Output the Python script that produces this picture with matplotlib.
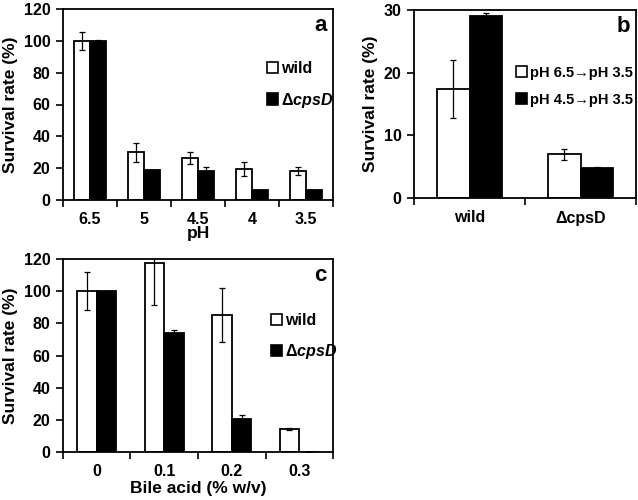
import numpy as np
import matplotlib
matplotlib.use("Agg")
import matplotlib.pyplot as plt
from matplotlib.patches import Patch

plt.rcParams['font.family'] = ['Liberation Sans', 'DejaVu Sans']
plt.rcParams['font.weight'] = 'bold'
plt.rcParams['axes.labelweight'] = 'bold'
plt.rcParams['mathtext.fontset'] = 'custom'
plt.rcParams['mathtext.rm'] = 'Liberation Sans:bold'
plt.rcParams['mathtext.it'] = 'Liberation Sans:bold:italic'

# panel a: pH
ph_labels = ["6.5", "5", "4.5", "4", "3.5"]
ph_wild = [100, 30.1, 26.4, 19.5, 18.2]
ph_wild_err = [5.6, 6.0, 4.0, 4.2, 2.3]
ph_cps = [100, 19.0, 18.2, 6.5, 6.5]
ph_cps_err = [0.3, 0, 2.3, 0, 0]

# panel b: acid adaptation
b_labels = ["wild", "ΔcpsD"]
b_direct = [17.4, 6.96]
b_direct_err = [4.7, 0.85]
b_adapted = [29.05, 4.78]
b_adapted_err = [0.5, 0.1]

# panel c: bile acid
bile_labels = ["0", "0.1", "0.2", "0.3"]
bile_wild = [100, 117.6, 85.2, 14.2]
bile_wild_err = [12, 26, 17, 0.7]
bile_cps = [100, 73.7, 20.3, 0]
bile_cps_err = [0.3, 2, 2.7, 0]

FS = 11.5
LFS = 12.5
W = 0.29
EK = dict(ecolor="black", elinewidth=0.9, capsize=2.5, capthick=0.9)


def bar_panel(ax, labels, v1, e1, v2, e2, ymax, ystep, letter, leg_labels, leg_xy, leg_fs=FS):
    x = np.arange(len(labels))
    ax.bar(x - W / 2, v1, W, yerr=e1, color="white", edgecolor="black",
           linewidth=1.3, error_kw=EK)
    ax.bar(x + W / 2, v2, W, yerr=e2, color="black", edgecolor="black",
           linewidth=1.3, error_kw=EK)
    ax.set_xlim(-0.5, len(labels) - 0.5)
    ax.set_ylim(0, ymax)
    ax.set_yticks(np.arange(0, ymax + 1, ystep))
    ax.set_xticks(np.arange(len(labels) + 1) - 0.5)
    ax.set_xticklabels([])
    ax.set_xticks(x, minor=True)
    ax.set_xticklabels(labels, minor=True)
    ax.tick_params(axis="x", which="minor", length=0, pad=9, labelsize=FS)
    ax.tick_params(axis="x", which="major", length=5, width=1.2, direction="out")
    ax.tick_params(axis="y", length=5, width=1.2, pad=4, labelsize=FS)
    for s in ax.spines.values():
        s.set_linewidth(1.3)
    ax.set_ylabel("Survival rate (%)", fontsize=LFS, labelpad=4)
    ax.text(0.975, 0.97, letter, transform=ax.transAxes, ha="right", va="top",
            fontsize=16, fontweight="bold")
    handles = [Patch(facecolor="white", edgecolor="black", linewidth=1.2),
               Patch(facecolor="black", edgecolor="black", linewidth=1.2)]
    ax.legend(handles, leg_labels, loc="center left", bbox_to_anchor=leg_xy,
              frameon=False, fontsize=leg_fs, handlelength=0.7, handleheight=0.7,
              handletextpad=0.2, labelspacing=0.9, borderaxespad=0)


fig = plt.figure(figsize=(6.38, 5.0), dpi=100)
ax_a = fig.add_axes([0.0987, 0.6, 0.4233, 0.382])
ax_b = fig.add_axes([0.649, 0.604, 0.348, 0.376])
ax_c = fig.add_axes([0.0987, 0.096, 0.4233, 0.386])

bar_panel(ax_a, ph_labels, ph_wild, ph_wild_err, ph_cps, ph_cps_err, 120, 20, "a",
          ["wild", r"$\mathit{\Delta cpsD}$"], (0.73, 0.60))
ax_a.set_xlabel("pH", fontsize=LFS, labelpad=-1)

bar_panel(ax_b, b_labels, b_direct, b_direct_err, b_adapted, b_adapted_err, 30, 10, "b",
          ["pH 6.5→pH 3.5", "pH 4.5→pH 3.5"], (0.435, 0.595), leg_fs=10.5)

bar_panel(ax_c, bile_labels, bile_wild, bile_wild_err, bile_cps, bile_cps_err, 120, 20, "c",
          ["wild", r"$\mathrm{\Delta}\mathit{cpsD}$"], (0.745, 0.595))
ax_c.set_xlabel("Bile acid (% w/v)", fontsize=LFS, labelpad=1)

fig.savefig("out.png", dpi=100)
